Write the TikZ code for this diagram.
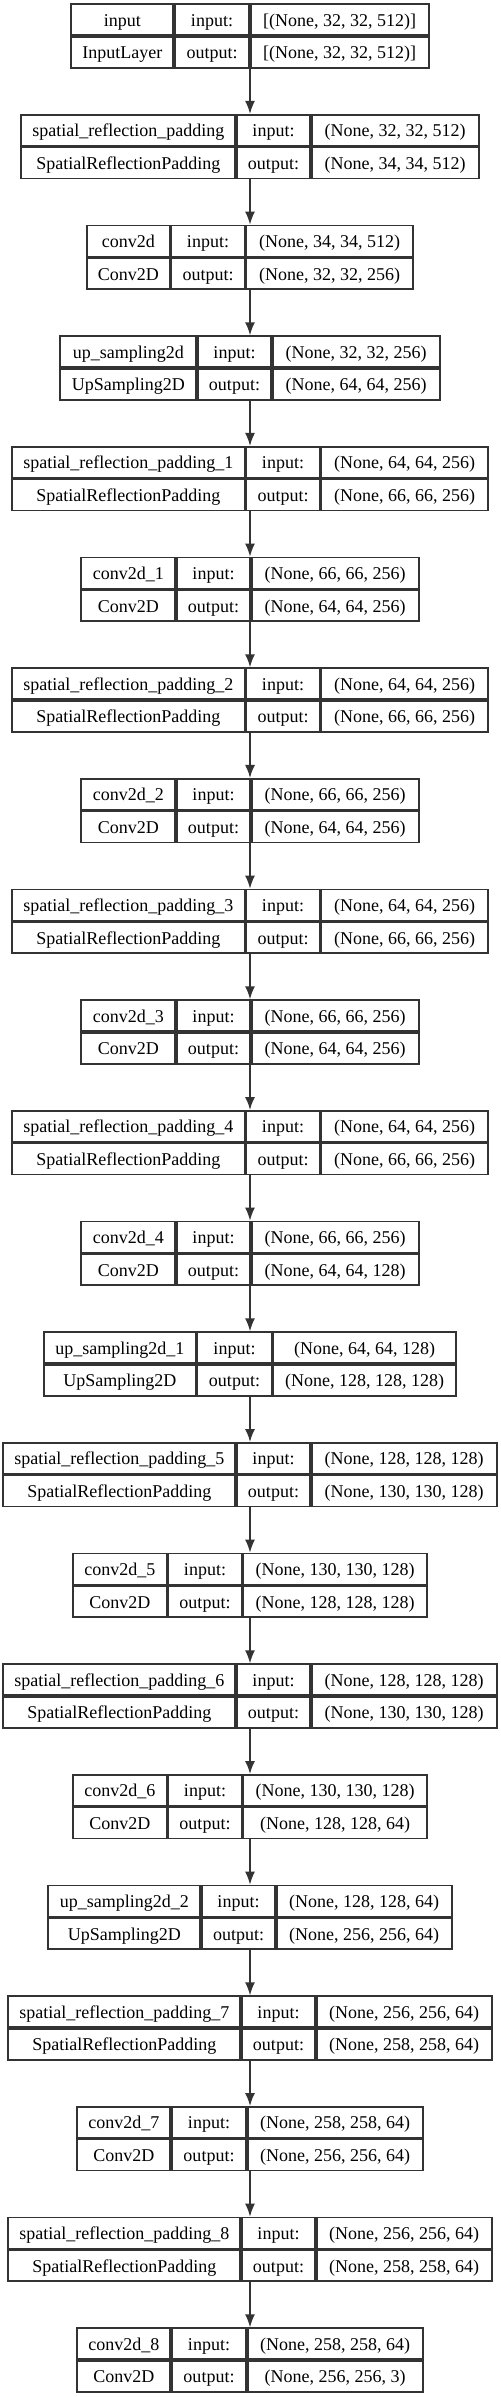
\documentclass[tikz,border=0pt]{standalone}
\usepackage{fontspec}
\setmainfont{Liberation Serif}
\usetikzlibrary{matrix,arrows.meta}

\tikzset{
  layer/.style={matrix of nodes,inner sep=0pt,outer sep=0pt,
    column sep=0pt,row sep=0pt,
    nodes={draw=black!80,line width=0.85pt,inner sep=0pt,outer sep=0pt,
      minimum height=15.5pt,text height=7.5pt,text depth=1pt,
      font=\fontsize{9}{11}\selectfont},
    ampersand replacement=\&},
  arr/.style={draw=black!80,line width=0.85pt,-{Latex[length=6.5pt,width=5pt]}}
}

\begin{document}
\begin{tikzpicture}[x=0.5pt,y=-0.5pt]
				\useasboundingbox (0,0) rectangle (500,2397);
				% one box per layer: name / type / input / output / column widths
				\foreach \nm/\ty/\ishape/\oshape/\wa/\wb/\wc [count=\k] in {
					input/InputLayer/{{[}(None, 32, 32, 512){]}}/{{[}(None, 32, 32, 512){]}}/102/74/178,
					spatial\_reflection\_padding/SpatialReflectionPadding/{(None, 32, 32, 512)}/{(None, 34, 34, 512)}/214/73/167,
					conv2d/Conv2D/{(None, 34, 34, 512)}/{(None, 32, 32, 256)}/83/73/167,
					up\_sampling2d/UpSampling2D/{(None, 32, 32, 256)}/{(None, 64, 64, 256)}/136/73/167,
					spatial\_reflection\_padding\_1/SpatialReflectionPadding/{(None, 64, 64, 256)}/{(None, 66, 66, 256)}/233/73/167,
					conv2d\_1/Conv2D/{(None, 66, 66, 256)}/{(None, 64, 64, 256)}/94/73/167,
					spatial\_reflection\_padding\_2/SpatialReflectionPadding/{(None, 64, 64, 256)}/{(None, 66, 66, 256)}/233/73/167,
					conv2d\_2/Conv2D/{(None, 66, 66, 256)}/{(None, 64, 64, 256)}/94/73/167,
					spatial\_reflection\_padding\_3/SpatialReflectionPadding/{(None, 64, 64, 256)}/{(None, 66, 66, 256)}/233/73/167,
					conv2d\_3/Conv2D/{(None, 66, 66, 256)}/{(None, 64, 64, 256)}/94/73/167,
					spatial\_reflection\_padding\_4/SpatialReflectionPadding/{(None, 64, 64, 256)}/{(None, 66, 66, 256)}/233/73/167,
					conv2d\_4/Conv2D/{(None, 66, 66, 256)}/{(None, 64, 64, 128)}/94/73/167,
					up\_sampling2d\_1/UpSampling2D/{(None, 64, 64, 128)}/{(None, 128, 128, 128)}/152/74/183,
					spatial\_reflection\_padding\_5/SpatialReflectionPadding/{(None, 128, 128, 128)}/{(None, 130, 130, 128)}/232/73/185,
					conv2d\_5/Conv2D/{(None, 130, 130, 128)}/{(None, 128, 128, 128)}/94/73/184,
					spatial\_reflection\_padding\_6/SpatialReflectionPadding/{(None, 128, 128, 128)}/{(None, 130, 130, 128)}/232/73/185,
					conv2d\_6/Conv2D/{(None, 130, 130, 128)}/{(None, 128, 128, 64)}/94/73/184,
					up\_sampling2d\_2/UpSampling2D/{(None, 128, 128, 64)}/{(None, 256, 256, 64)}/152/73/175,
					spatial\_reflection\_padding\_7/SpatialReflectionPadding/{(None, 256, 256, 64)}/{(None, 258, 258, 64)}/232/73/175,
					conv2d\_7/Conv2D/{(None, 258, 258, 64)}/{(None, 256, 256, 64)}/93/74/175,
					spatial\_reflection\_padding\_8/SpatialReflectionPadding/{(None, 256, 256, 64)}/{(None, 258, 258, 64)}/232/73/175,
					conv2d\_8/Conv2D/{(None, 258, 258, 64)}/{(None, 256, 256, 3)}/93/74/175}
				{\pgfmathsetmacro\yc{36+110.67*(\k-1)}
					\matrix[layer,
					column 1/.style={nodes={minimum width=\wa*0.5pt}},
					column 2/.style={nodes={minimum width=\wb*0.5pt}},
					column 3/.style={nodes={minimum width=\wc*0.5pt}}] (l\k) at (250,\yc) {
						\nm \& input: \& \ishape \\
						\ty \& output: \& \oshape \\
					};}
				\foreach \X in {1,...,21}
				{\draw[arr] (l\X.south) -- (l\the\numexpr\X+1.north);}
\end{tikzpicture}
\end{document}
